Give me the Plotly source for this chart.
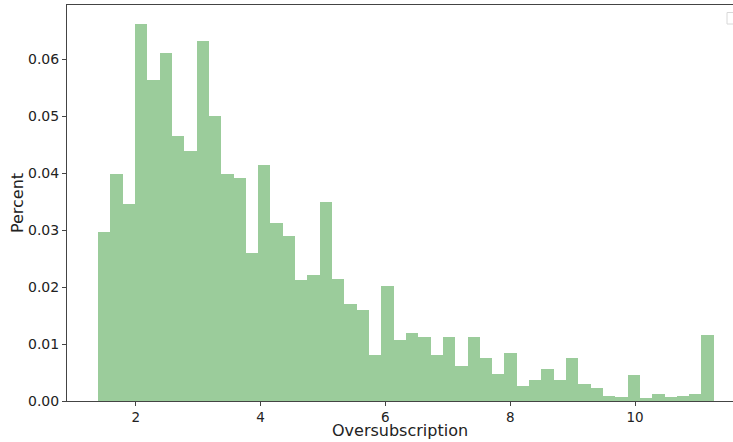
import numpy as np
import plotly.graph_objects as go

# Histogram data
bin_start = 1.397
bin_width = 0.1973
percent = [
    0.0297, 0.0399, 0.0346, 0.0662, 0.0563, 0.0610, 0.0465, 0.0439, 0.0632, 0.0501,
    0.0398, 0.0392, 0.0260, 0.0415, 0.0313, 0.0290, 0.0212, 0.0221, 0.0349, 0.0214,
    0.0170, 0.0160, 0.0080, 0.0202, 0.0107, 0.0119, 0.0112, 0.0080, 0.0112, 0.0062,
    0.0112, 0.0075, 0.0047, 0.0085, 0.0026, 0.0036, 0.0056, 0.0036, 0.0075, 0.0029,
    0.0022, 0.0009, 0.0007, 0.0045, 0.0005, 0.0012, 0.0007, 0.0009, 0.0012, 0.0115,
]
x_ticks = [2, 4, 6, 8, 10]
y_ticks = [0.00, 0.01, 0.02, 0.03, 0.04, 0.05, 0.06]
x_label = "Oversubscription"
y_label = "Percent"

centers = bin_start + bin_width * (np.arange(len(percent)) + 0.5)

fig = go.Figure()
fig.add_trace(go.Bar(
    x=centers, y=percent, width=bin_width,
    marker=dict(color="#9bcc9b", line=dict(width=0)),
    showlegend=False,
))

font = "DejaVu Sans, Arial, sans-serif"
fig.update_layout(
    width=733, height=442,
    margin=dict(l=67, r=0, t=5, b=41),
    paper_bgcolor="white", plot_bgcolor="white",
    bargap=0,
    font=dict(family=font, size=14, color="#222"),
    xaxis=dict(
        range=[0.899, 11.57], tickvals=x_ticks, ticktext=[str(v) for v in x_ticks],
        showline=True, linecolor="#444", linewidth=1, mirror=True,
        ticks="outside", ticklen=3.5, tickcolor="#444", showgrid=False, zeroline=False,
        automargin=False,
        tickfont=dict(size=13.5),
    ),
    yaxis=dict(
        range=[0, 0.0695], tickvals=y_ticks, ticktext=[f"{v:.2f}" for v in y_ticks],
        showline=True, linecolor="#444", linewidth=1, mirror=False,
        ticks="outside", ticklen=4, tickcolor="#444", showgrid=False, zeroline=False,
        title=dict(text=y_label, font=dict(size=16, family=font), standoff=0),
        tickfont=dict(size=14),
    ),
    annotations=[dict(
        text=x_label, xref="paper", yref="paper",
        x=0.5 + (400.5 - 400) / 666, y=(401 - 441.5) / 396,
        xanchor="center", yanchor="bottom", showarrow=False,
        font=dict(size=16, family=font, color="#222"),
    )],
    shapes=[dict(
        type="rect", xref="paper", yref="paper",
        x0=(727 - 67) / 666, x1=(740 - 67) / 666,
        y0=(401 - 24) / 396, y1=(401 - 12.5) / 396,
        line=dict(color="#d8d8d8", width=1), fillcolor="white",
    )],
)

fig.write_html("out.html")
